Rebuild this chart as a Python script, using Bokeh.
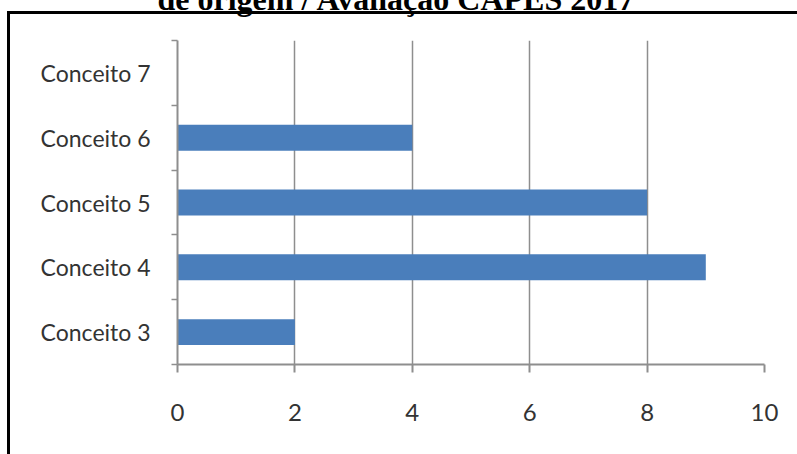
from bokeh.plotting import figure
from bokeh.models import (Range1d, LinearAxis, FixedTicker, Title)
from bokeh.embed import file_html
from bokeh.resources import INLINE

# ---- data ----
title_text = "de origem / Avaliação CAPES 2017"
categories = ["Conceito 3", "Conceito 4", "Conceito 5", "Conceito 6", "Conceito 7"]
values = [2, 9, 8, 4, 0]
x_ticks = [0, 2, 4, 6, 8, 10]

n = len(categories)
band_centers = [i + 0.5 for i in range(n)]
band_edges = list(range(n + 1))

GRID = "#8e8e8e"
TEXT = "#333333"
BAR = "#4a7ebb"
FONT = "Lato"
K = 60  # canvas starts above the window top, so the title is cropped like the reference

p = figure(width=797, height=454 + K, output_backend="svg", toolbar_location=None,
           y_range=Range1d(0, n), x_range=Range1d(0, 10), y_axis_location=None,
           min_border_left=177, min_border_right=33, min_border_top=40 + K,
           min_border_bottom=90, margin=(-K, 0, 0, 0))
p.outline_line_color = None
p.background_fill_color = None
p.border_fill_color = None
p.styles = {
    "background-color": "white",
    "background-image": "linear-gradient(#000,#000), linear-gradient(#000,#000)",
    "background-size": "100% 3px, 3px 100%",
    "background-position": f"6.5px {K + 10.5}px, 6.5px {K + 10.5}px",
    "background-repeat": "no-repeat",
}

p.hbar(y=band_centers, right=values, left=0, height=0.4, fill_color=BAR, line_color=None)

# x axis
xa = p.xaxis[0]
xa.ticker = FixedTicker(ticks=x_ticks)
xa.axis_line_color = GRID
xa.axis_line_width = 2
xa.major_tick_line_color = GRID
xa.major_tick_line_width = 2
xa.major_tick_out = 8
xa.major_tick_in = 0
xa.minor_tick_line_color = None
xa.major_label_standoff = 31
xa.major_label_text_font = FONT
xa.major_label_text_font_size = "24px"
xa.major_label_text_color = TEXT
p.xgrid.ticker = FixedTicker(ticks=x_ticks)
p.xgrid.grid_line_color = GRID
p.xgrid.grid_line_width = 1.5
p.ygrid.visible = False

# y axis: tick marks at band edges
ta = LinearAxis(ticker=FixedTicker(ticks=band_edges))
ta.axis_line_color = GRID
ta.axis_line_width = 2
ta.major_tick_line_color = GRID
ta.major_tick_line_width = 1.5
ta.major_tick_out = 6
ta.major_tick_in = 0
ta.minor_tick_line_color = None
ta.major_label_standoff = 0
ta.major_label_overrides = {e: "" for e in band_edges}
ta.major_label_text_font_size = "1px"
p.add_layout(ta, "left")

# y axis: category labels
ca = LinearAxis(ticker=FixedTicker(ticks=band_centers),
                major_label_overrides={c: name for c, name in zip(band_centers, categories)})
ca.axis_line_color = None
ca.major_tick_line_color = None
ca.minor_tick_line_color = None
ca.major_tick_out = 0
ca.major_tick_in = 0
ca.major_label_standoff = 21
ca.major_label_text_font = FONT
ca.major_label_text_font_size = "23px"
ca.major_label_text_color = TEXT
p.add_layout(ca, "left")

# title (its upper part lies above the window, as in the reference)
p.add_layout(Title(text=title_text, align="left", offset=-20, standoff=48,
                   vertical_align="bottom",
                   text_font="Liberation Serif", text_font_style="bold",
                   text_font_size="32px", text_color="black"), "above")

open("out.html", "w").write(file_html(p, INLINE))
